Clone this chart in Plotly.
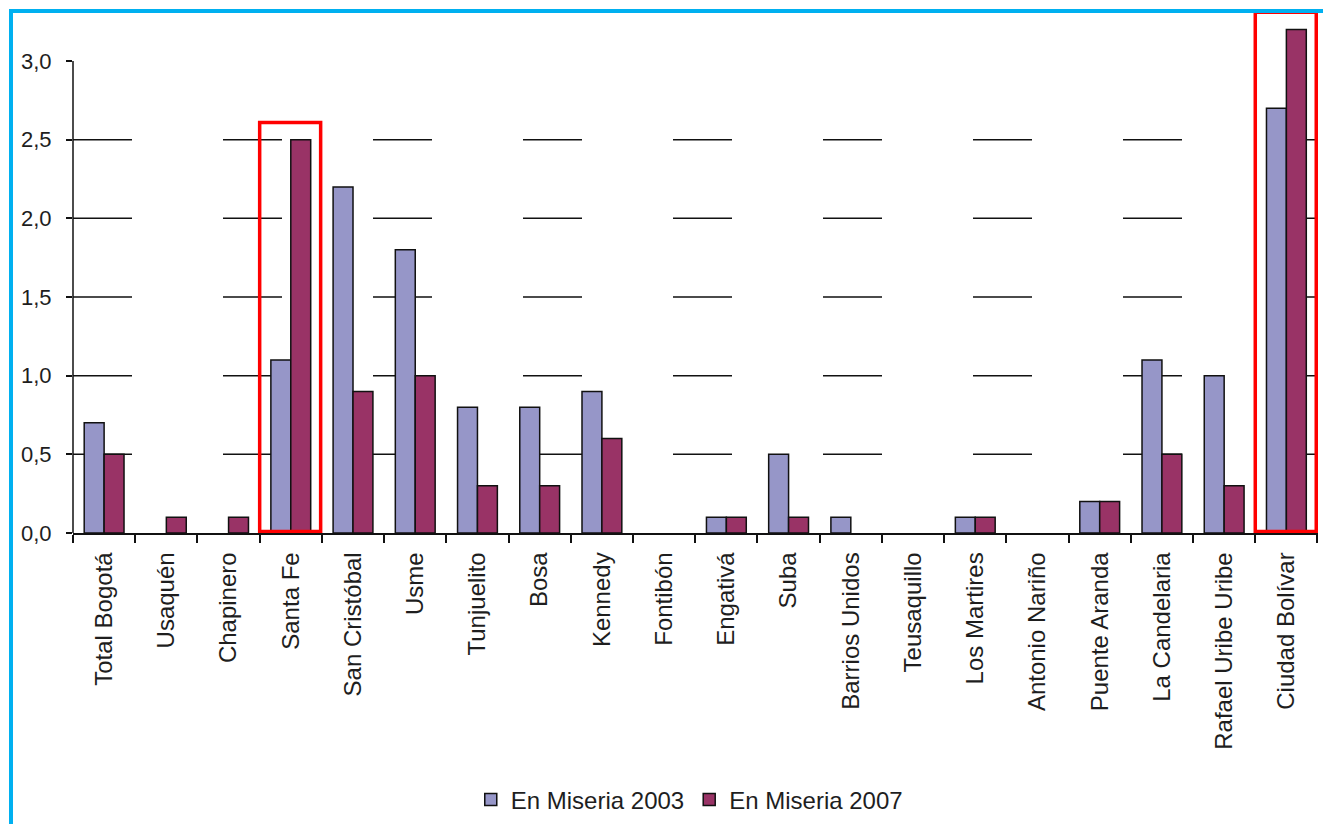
import plotly.graph_objects as go

categories = ["Total Bogotá", "Usaquén", "Chapinero", "Santa Fe", "San Cristóbal", "Usme",
              "Tunjuelito", "Bosa", "Kennedy", "Fontibón", "Engativá", "Suba",
              "Barrios Unidos", "Teusaquillo", "Los Martires", "Antonio Nariño",
              "Puente Aranda", "La Candelaria", "Rafael Uribe Uribe", "Ciudad Bolívar"]
miseria_2003 = [0.7, 0, 0, 1.1, 2.2, 1.8, 0.8, 0.8, 0.9, 0, 0.1, 0.5, 0.1, 0, 0.1, 0, 0.2, 1.1, 1.0, 2.7]
miseria_2007 = [0.5, 0.1, 0.1, 2.5, 0.9, 1.0, 0.3, 0.3, 0.6, 0, 0.1, 0.1, 0, 0, 0.1, 0, 0.2, 0.5, 0.3, 3.2]
series_names = ["En Miseria 2003", "En Miseria 2007"]
y_ticks = [0.0, 0.5, 1.0, 1.5, 2.0, 2.5, 3.0]
highlighted = ["Santa Fe", "Ciudad Bolívar"]
highlight_tops = [2.61, 3.31]

FONT = "Liberation Sans, Arial, sans-serif"
TXT = "#1e1e1e"


def outline(values):
    return [1.5 if v else 0 for v in values]


fig = go.Figure()
fig.add_trace(go.Bar(x=categories, y=miseria_2003, name=series_names[0],
                     marker=dict(color="#9696C8", line=dict(color="#111111", width=outline(miseria_2003)))))
fig.add_trace(go.Bar(x=categories, y=miseria_2007, name=series_names[1],
                     marker=dict(color="#993366", line=dict(color="#111111", width=outline(miseria_2007)))))

shapes = []
# dashed-looking gridlines (behind bars)
for v in y_ticks[1:-1]:
    shapes.append(dict(type="line", xref="paper", x0=0, x1=1, yref="y", y0=v, y1=v,
                       line=dict(color="#111111", width=1.5, dash="59px,91px"), layer="below"))
# y axis line up to 3.0
shapes.append(dict(type="line", xref="paper", x0=0, x1=0, yref="y", y0=0, y1=y_ticks[-1],
                   line=dict(color="#111111", width=1.5), layer="above"))
# red highlight boxes
for cat, top in zip(highlighted, highlight_tops):
    i = categories.index(cat)
    shapes.append(dict(type="rect", xref="x", yref="y", x0=i - 0.5, x1=i + 0.48, y0=0.01, y1=top,
                       line=dict(color="#FF0000", width=3.5), fillcolor="rgba(0,0,0,0)", layer="above"))
# blue frame (left and top)
shapes.append(dict(type="line", xref="paper", yref="paper", x0=-0.0498, x1=-0.0498, y0=-1.0, y1=0.9943,
                   line=dict(color="#00B0F0", width=4)))
shapes.append(dict(type="line", xref="paper", yref="paper", x0=-0.0514, x1=1.02, y0=0.9943, y1=0.9943,
                   line=dict(color="#00B0F0", width=4)))

fig.update_layout(
    width=1323, height=816,
    margin=dict(l=65, r=13, t=0, b=291, autoexpand=False),
    paper_bgcolor="white", plot_bgcolor="white",
    barmode="group", bargap=0.36, bargroupgap=0,
    separators=",.",
    font=dict(family=FONT, size=22, color=TXT),
    showlegend=True,
    legend=dict(orientation="h", x=0.495, xanchor="center", y=-0.5086, yanchor="middle",
                font=dict(size=24, color=TXT), itemwidth=30, traceorder="normal"),
    shapes=shapes,
)
fig.update_yaxes(range=[0, 3.337], tickvals=y_ticks, tickformat=".1f", showgrid=False,
                 zeroline=False, showline=False, ticks="outside", ticklen=6, tickcolor="#111111",
                 tickwidth=1.5, tickfont=dict(size=22, color=TXT), automargin=False,
                 ticklabelstandoff=10)
fig.update_xaxes(showline=True, linecolor="#111111", linewidth=1.5, ticks="outside",
                 tickson="boundaries", ticklen=8, tickcolor="#111111", tickwidth=1.5,
                 tickangle=-90, tickfont=dict(size=24, color=TXT), showgrid=False,
                 ticklabelstandoff=8, automargin=False)

fig.write_html("out.html")
